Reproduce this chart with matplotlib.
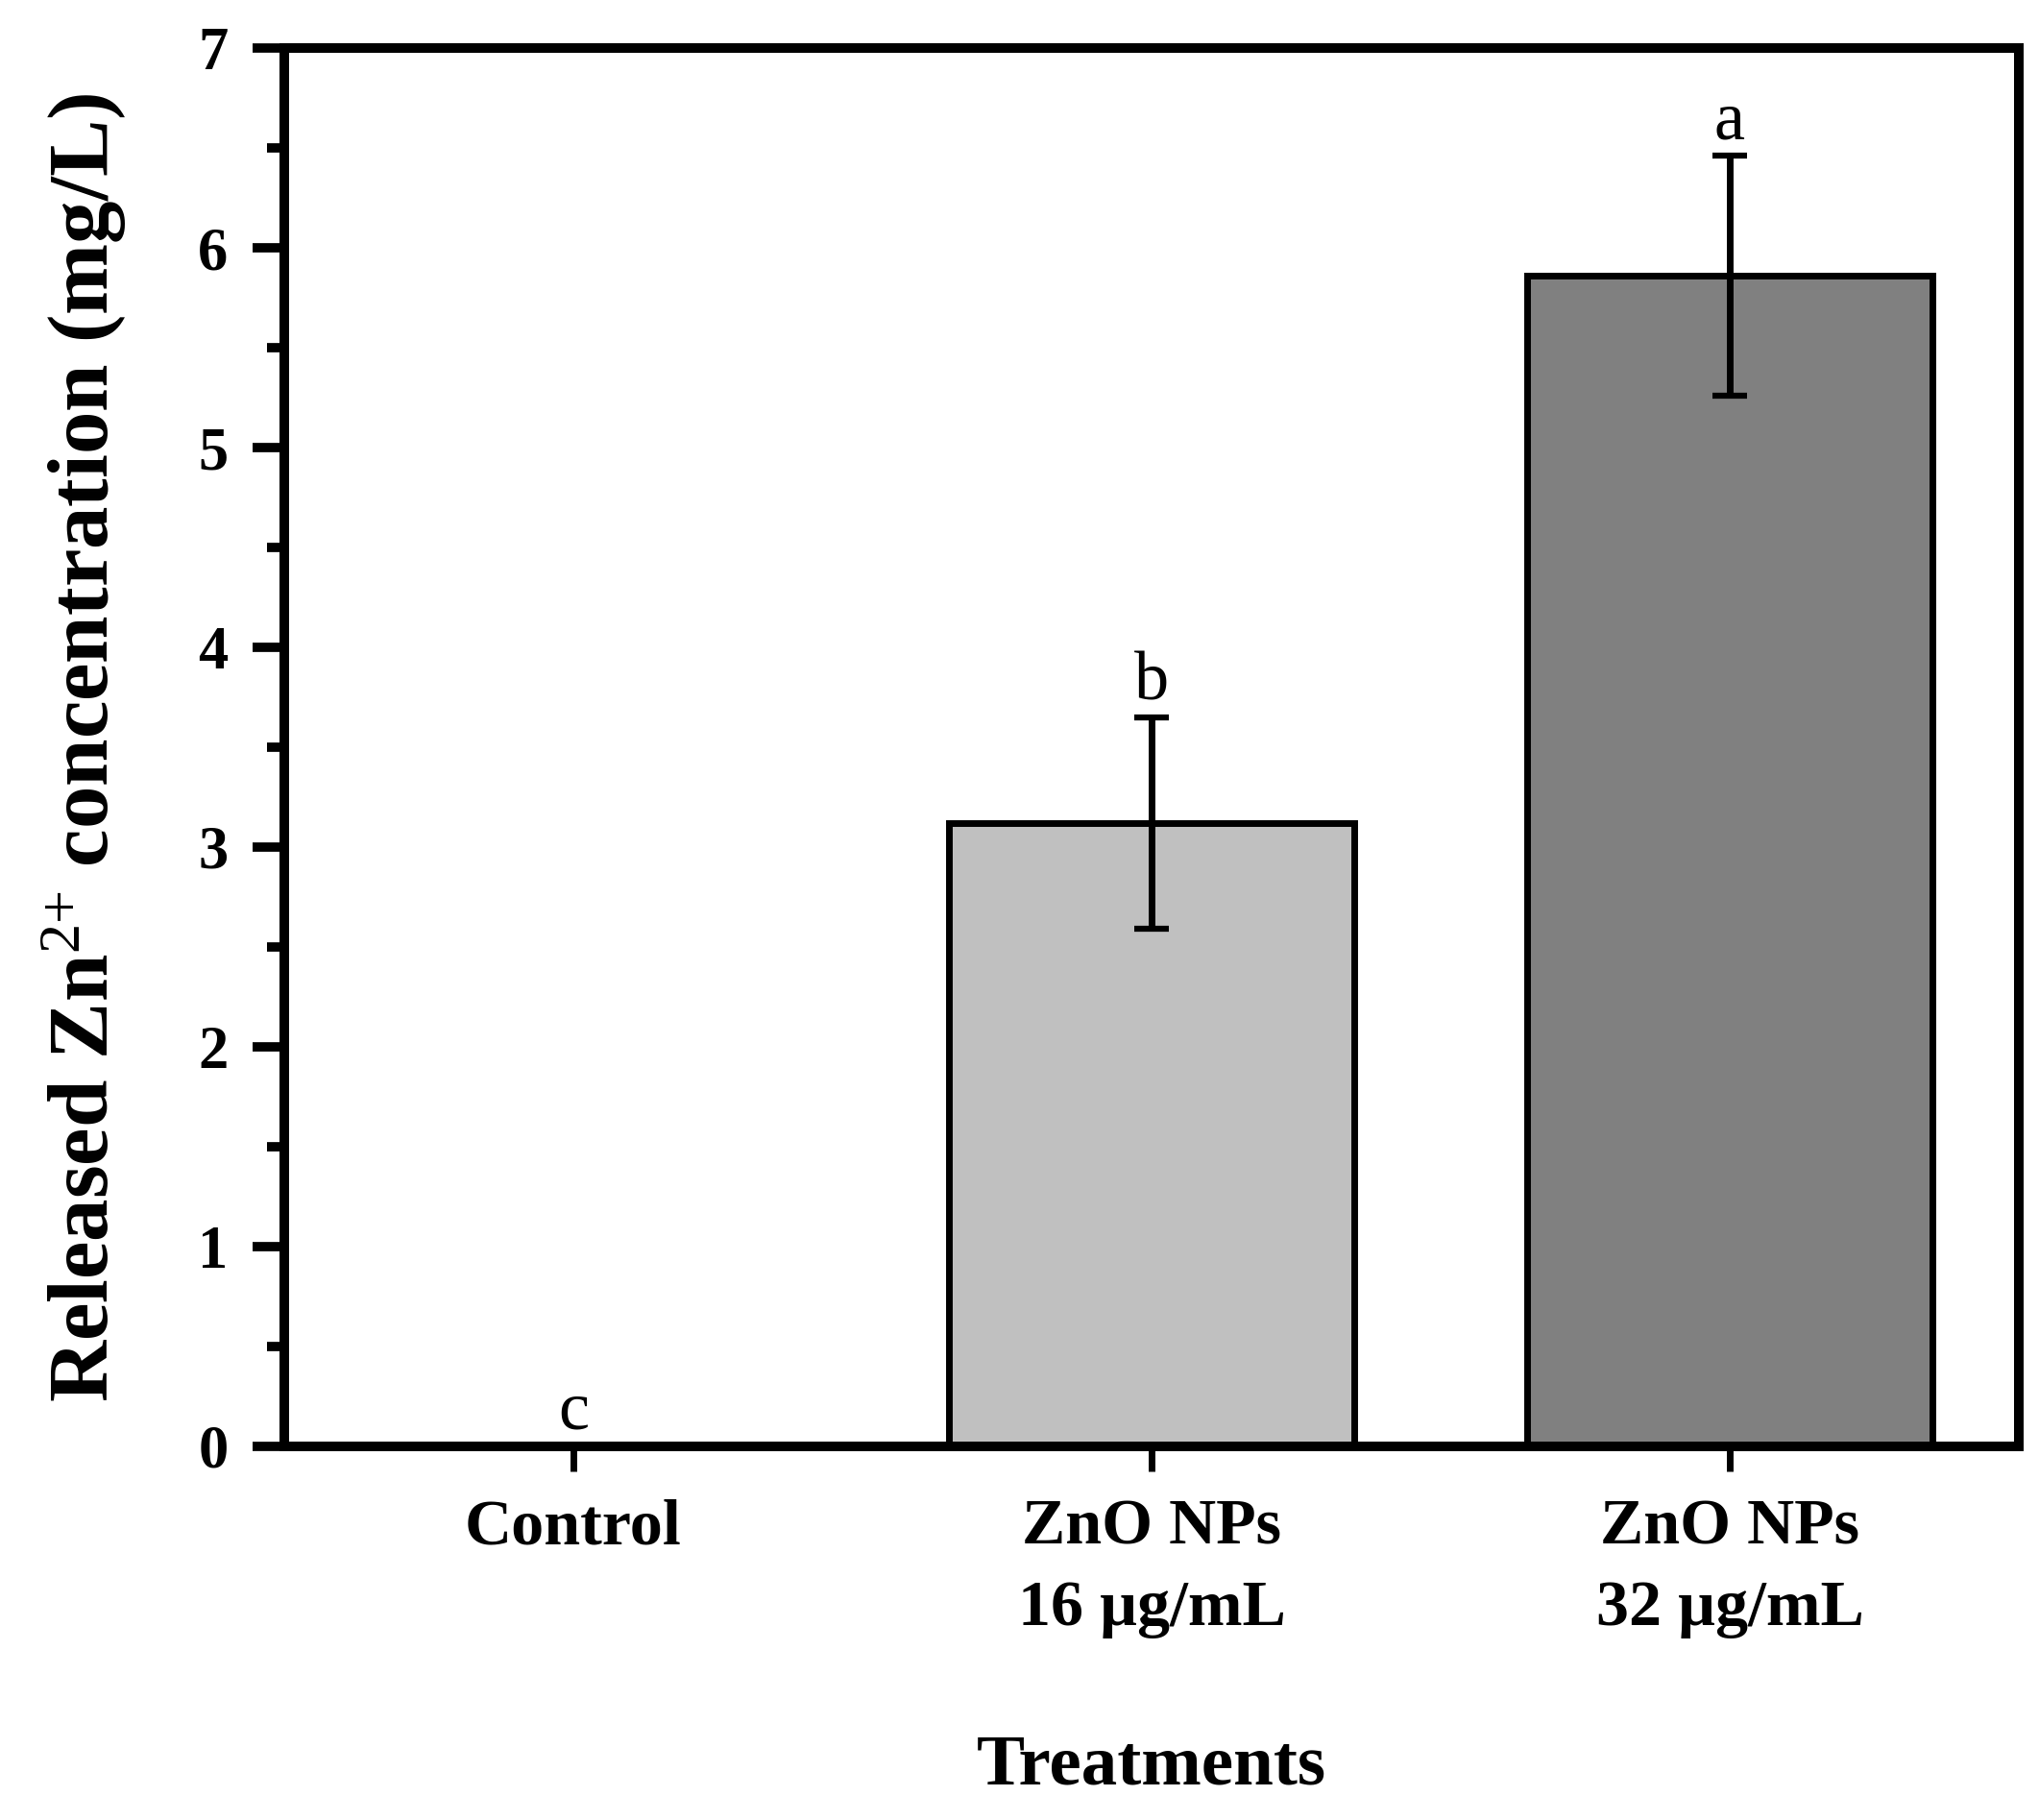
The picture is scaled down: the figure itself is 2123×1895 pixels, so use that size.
import numpy as np
import matplotlib.pyplot as plt
from matplotlib.ticker import MultipleLocator

plt.rcParams['font.family'] = ['Liberation Serif', 'DejaVu Serif']
plt.rcParams['mathtext.fontset'] = 'custom'
plt.rcParams['mathtext.rm'] = 'Liberation Serif'
plt.rcParams['mathtext.it'] = 'Liberation Serif'
plt.rcParams['mathtext.bf'] = 'Liberation Serif:bold'

# data
categories = ['Control', 'ZnO NPs\n16 µg/mL', 'ZnO NPs\n32 µg/mL']
zn_release = [0.0, 3.12, 5.86]
zn_err = [0.0, 0.53, 0.60]
letters = ['c', 'b', 'a']
bar_colors = ['white', '#c0c0c0', '#808080']

fig = plt.figure(figsize=(21.23, 18.95), dpi=100)
ax = fig.add_axes([0.1394, 0.2053, 0.8507, 0.7683])

x = np.arange(len(categories))
vals = np.array(zn_release)
errs = np.array(zn_err)
ax.bar(x, vals, width=0.7, color=bar_colors, edgecolor='black', linewidth=5, zorder=2)

m = errs > 0
ax.errorbar(x[m], vals[m], yerr=errs[m], fmt='none', ecolor='black',
            elinewidth=5, capsize=13, capthick=4.5, zorder=3)

# significance letters
for xi, v, e, lab in zip(x, vals, errs, letters):
    ax.annotate(lab, (xi, v + e), xytext=(0, 13), textcoords='offset points',
                ha='center', va='baseline', fontsize=52)

ax.set_xlim(-0.5, 2.5)
ax.set_ylim(0, 7)
ax.set_xticks(x)
ax.set_xticklabels(categories, fontsize=49, fontweight='bold', linespacing=1.5)
ax.yaxis.set_major_locator(MultipleLocator(1))
ax.yaxis.set_minor_locator(MultipleLocator(0.5))
ax.tick_params(axis='y', which='major', direction='out', length=24, width=7,
               labelsize=45, pad=18)
ax.tick_params(axis='y', which='minor', direction='out', length=13, width=7)
ax.tick_params(axis='x', which='major', direction='out', length=19, width=5, pad=20)
for t in ax.get_yticklabels():
    t.set_fontweight('bold')
for sp in ax.spines.values():
    sp.set_linewidth(7.2)

ax.set_ylabel(r'Released Zn$^{2{+}}$ concentration (mg/L)', fontsize=64, fontweight='bold')
ax.yaxis.set_label_coords(-0.09, 0.5)
ax.set_xlabel('Treatments', fontsize=54, fontweight='bold')
ax.xaxis.set_label_coords(0.5, -0.206)

fig.savefig('out.png', dpi=100)
